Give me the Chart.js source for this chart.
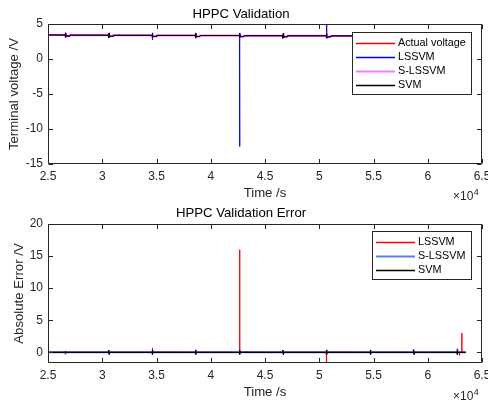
<!DOCTYPE html>
<html lang="en">
<head>
  <meta charset="UTF-8">
  <title>HPPC Validation</title>
  <style>
    body { margin: 0; background: #fff; }
    #wrap { position: relative; width: 488px; height: 403px; }
    canvas { position: absolute; left: 0; }
    #c1 { top: 0; }
    #c2 { top: 199px; }
  </style>
</head>
<body>
  <div id="wrap">
    <canvas id="c1" width="488" height="200"></canvas>
    <canvas id="c2" width="488" height="204"></canvas>
  </div>

  <script src="https://cdn.jsdelivr.net/npm/chart.js"></script>
  <script>
    // tick labels (time axis is shown in units of 1e4 s)
    const timeTicks = [2.5, 3, 3.5, 4, 4.5, 5, 5.5, 6, 6.5];
    const voltTicks = [-15, -10, -5, 0, 5];
    const errTicks = [0, 5, 10, 15, 20];

    // --- HPPC Validation: time (s) and terminal voltage (V)
    const timeV = [25000,
      26599, 26600, 26640, 26660, 27000, 27020,
      30599, 30600, 30640, 30660, 31000, 31020,
      34599, 34600, 34640, 34660, 35000, 35020,
      38599, 38600, 38640, 38660, 39000, 39020,
      42649, 42650, 42690, 42710, 43050, 43070,
      46649, 46650, 46690, 46710, 47050, 47070,
      50649, 50650, 50690, 50710, 51050, 51070,
      54699, 54700, 54740, 54760, 55100, 55120,
      58699, 58700, 58740, 58760, 59100, 59120,
      62699, 62700, 62740, 62760, 63100, 63120,
      63500];
    const actualV = [3.43,
      3.43, 3.08, 3.73, 3.28, 3.28, 3.40,
      3.40, 3.05, 3.70, 3.25, 3.25, 3.38,
      3.38, 3.03, 3.68, 3.23, 3.23, 3.37,
      3.37, 3.02, 3.67, 3.22, 3.22, 3.35,
      3.35, 3.00, 3.65, 3.20, 3.20, 3.33,
      3.33, 2.98, 3.63, 3.18, 3.18, 3.32,
      3.32, 2.97, 3.62, 3.17, 3.17, 3.30,
      3.30, 2.95, 3.60, 3.15, 3.15, 3.28,
      3.28, 2.93, 3.58, 3.13, 3.13, 3.25,
      3.25, 2.90, 3.55, 3.10, 3.10, 3.20,
      3.20];
    const lssvmV = [3.43,
      3.43, 3.06, 3.72, 3.27, 3.28, 3.40,
      3.40, 3.00, 3.70, 3.24, 3.25, 3.38,
      3.38, 2.72, 3.69, 3.22, 3.23, 3.37,
      3.37, 3.00, 3.66, 3.21, 3.22, 3.35,
      3.35, -12.50, 3.64, 3.19, 3.20, 3.33,
      3.33, 2.97, 3.62, 3.17, 3.18, 3.32,
      3.32, 2.95, 8.00, 3.16, 3.17, 3.30,
      3.30, 2.94, 3.60, 3.14, 3.15, 3.28,
      3.28, 2.92, 3.57, 3.12, 3.13, 3.25,
      3.25, 2.90, 3.55, 3.09, 3.10, 0.25,
      3.20];
    const sLssvmV = [3.43,
      3.43, 3.10, 3.71, 3.29, 3.28, 3.40,
      3.40, 3.07, 3.68, 3.26, 3.25, 3.38,
      3.38, 3.05, 3.66, 3.24, 3.23, 3.37,
      3.37, 3.04, 3.65, 3.23, 3.22, 3.35,
      3.35, 3.02, 3.63, 3.21, 3.20, 3.33,
      3.33, 3.00, 3.61, 3.19, 3.18, 3.32,
      3.32, 2.99, 3.60, 3.18, 3.17, 3.30,
      3.30, 2.97, 3.58, 3.16, 3.15, 3.28,
      3.28, 2.95, 3.56, 3.14, 3.13, 3.25,
      3.25, 2.92, 3.53, 3.11, 3.10, 3.20,
      3.20];
    const svmV = [3.43,
      3.43, 3.12, 3.70, 3.29, 3.28, 3.40,
      3.40, 3.10, 3.68, 3.26, 3.25, 3.38,
      3.38, 3.08, 3.66, 3.24, 3.23, 3.37,
      3.37, 3.06, 3.65, 3.23, 3.22, 3.35,
      3.35, 3.05, 3.63, 3.21, 3.20, 3.33,
      3.33, 3.03, 3.61, 3.19, 3.18, 3.32,
      3.32, 3.02, 3.60, 3.18, 3.17, 3.30,
      3.30, 3.00, 3.58, 3.16, 3.15, 3.28,
      3.28, 2.98, 3.56, 3.14, 3.13, 3.25,
      3.25, 2.95, 3.53, 3.11, 3.10, 3.20,
      3.20];

    // --- HPPC Validation Error: time (s) and absolute error (V)
    const timeE = [25000,
      26599, 26600, 26640, 26660,
      30599, 30600, 30640, 30660,
      34599, 34600, 34640, 34660,
      38599, 38600, 38640, 38660,
      42649, 42650, 42690, 42710,
      46649, 46650, 46690, 46710,
      50649, 50650, 50690, 50710,
      54699, 54700, 54740, 54760,
      58699, 58700, 58740, 58760,
      62699, 62700, 62740, 62760,
      62929, 62930, 62940,
      63139, 63140, 63150,
      63500];
    const lssvmErr = [0.02,
      0.02, 0.05, -0.05, 0.03,
      0.02, 0.08, -0.06, 0.03,
      0.02, 0.70, -0.10, 0.05,
      0.02, 0.10, -0.08, 0.03,
      0.02, 16.00, -0.10, 0.05,
      0.02, 0.10, -0.08, 0.03,
      0.02, 0.10, -3.50, 0.05,
      0.02, 0.08, -0.08, 0.03,
      0.02, 0.10, -0.08, 0.03,
      0.02, 0.10, -0.10, 0.03,
      0.02, -0.50, 0.02,
      0.02, 3.00, 0.02,
      0.02];
    const sLssvmErr = [0.00,
      0.00, -0.20, 0.10, 0.02,
      0.00, 0.25, -0.15, 0.02,
      0.00, 0.20, -0.15, 0.02,
      0.00, 0.30, -0.20, 0.02,
      0.00, 0.20, -0.15, 0.02,
      0.00, 0.25, -0.15, 0.02,
      0.00, 0.30, -0.20, 0.02,
      0.00, 0.20, -0.15, 0.02,
      0.00, 0.35, -0.20, 0.02,
      0.00, 0.50, -0.20, 0.02,
      0.00, 0.00, 0.00,
      0.00, 0.00, 0.00,
      0.00];
    const svmErr = [0.00,
      0.00, 0.10, -0.10, 0.01,
      0.00, 0.30, -0.30, 0.01,
      0.00, 0.30, -0.30, 0.01,
      0.00, 0.30, -0.30, 0.01,
      0.00, 0.30, -0.30, 0.01,
      0.00, 0.30, -0.30, 0.01,
      0.00, 0.30, -0.30, 0.01,
      0.00, 0.30, -0.30, 0.01,
      0.00, 0.30, -0.30, 0.01,
      0.00, 0.30, -0.30, 0.01,
      0.00, 0.00, 0.00,
      0.00, 0.00, 0.00,
      0.00];

    const FONT = "'Liberation Sans', Arial, Helvetica, sans-serif";
    const AXIS = '#262626';
    const RED = 'rgb(255,0,0)', BLUE = 'rgb(0,0,255)', BLACK = 'rgb(0,0,0)';
    const PINK = 'rgba(255,0,255,0.55)', LIGHTBLUE = 'rgba(0,50,255,0.65)';
    Chart.defaults.font.family = FONT;
    Chart.defaults.color = AXIS;

    const pts = (t, v) => t.map((x, i) => ({ x: x, y: v[i] }));

    // matlab-like box, inward ticks, x10^4 note and legend inside the axes
    const matlabAxes = {
      id: 'matlabAxes',
      afterDraw(chart, args, opts) {
        const { ctx, chartArea: a, scales } = chart;
        const L = Math.round(a.left) + 0.5, R = Math.round(a.right) - 0.5;
        const T = Math.round(a.top) + 0.5, B = Math.round(a.bottom) - 0.5;
        ctx.save();
        ctx.strokeStyle = AXIS;
        ctx.lineWidth = 1;
        ctx.beginPath();
        ctx.rect(L, T, R - L, B - T);
        scales.x.ticks.forEach(t => {
          const px = Math.round(scales.x.getPixelForValue(t.value)) + 0.5;
          ctx.moveTo(px, B); ctx.lineTo(px, B - 4.5);
          ctx.moveTo(px, T); ctx.lineTo(px, T + 4.5);
        });
        scales.y.ticks.forEach(t => {
          const py = Math.round(scales.y.getPixelForValue(t.value)) + 0.5;
          ctx.moveTo(L, py); ctx.lineTo(L + 4.5, py);
          ctx.moveTo(R, py); ctx.lineTo(R - 4.5, py);
        });
        ctx.stroke();

        // exponent of the time axis
        ctx.fillStyle = AXIS;
        ctx.textAlign = 'left';
        ctx.textBaseline = 'alphabetic';
        ctx.font = '12px ' + FONT;
        const ex = a.right - 29;
        ctx.fillText('\u00d710', ex, opts.expBase);
        const w10 = ctx.measureText('\u00d710').width;
        ctx.font = '9px ' + FONT;
        ctx.fillText('4', ex + w10 + 0.5, opts.expBase - 5);

        // legend
        const items = opts.items;
        ctx.font = '10.8px ' + FONT;
        const maxW = Math.max(...items.map(d => ctx.measureText(d.label).width));
        const rowH = 14.3;
        const w = Math.round(4.5 + 39 + 3 + maxW + 5);
        const h = Math.round(10.5 + (items.length - 1) * rowH + 8.5);
        const x0 = Math.round(a.right - 11 - w);
        const y0 = Math.round(a.top + opts.legendTop);
        ctx.fillStyle = '#ffffff';
        ctx.fillRect(x0, y0, w, h);
        ctx.strokeStyle = AXIS;
        ctx.lineWidth = 1;
        ctx.strokeRect(x0 + 0.5, y0 + 0.5, w, h);
        items.forEach((d, i) => {
          const yy = Math.round(y0 + 10.5 + i * rowH);
          const lw = d.width < 2 ? 1.5 : 2;
          ctx.fillStyle = d.color;
          ctx.fillRect(x0 + 4, yy - lw / 2 + 0.5, 39, lw);
          ctx.fillStyle = '#000000';
          ctx.textBaseline = 'middle';
          ctx.fillText(d.label, x0 + 46, yy + 0.5);
        });
        ctx.restore();
      }
    };

    function axesOptions(o) {
      return {
        responsive: false,
        animation: false,
        events: [],
        layout: { padding: { top: 0, left: 0, right: 6, bottom: 0 }, autoPadding: false },
        elements: {
          point: { radius: 0 },
          line: { tension: 0, borderJoinStyle: 'round', borderCapStyle: 'butt' }
        },
        plugins: {
          legend: { display: false },
          tooltip: { enabled: false },
          title: {
            display: true, text: o.title, color: '#000',
            font: { size: 13.2, weight: 'normal', lineHeight: 1 },
            padding: { top: 8, bottom: o.titleGap }
          },
          matlabAxes: { legendTop: o.legendTop, expBase: o.expBase, items: o.legend }
        },
        scales: {
          x: {
            type: 'linear', min: 25000, max: 65000,
            grid: { display: false, drawTicks: false }, border: { display: false },
            afterBuildTicks: s => { s.ticks = timeTicks.map(v => ({ value: v * 1e4 })); },
            afterFit: s => { s.height = o.xHeight; s.paddingLeft = 0; s.paddingRight = 0; },
            ticks: { autoSkip: false, maxRotation: 0, padding: 5, font: { size: 12 },
                     callback: v => String(v / 1e4) },
            title: { display: true, text: 'Time /s', font: { size: 13.2, lineHeight: 1 },
                     padding: { top: 0, bottom: o.xTitlePad } }
          },
          y: {
            min: o.yMin, max: o.yMax,
            grid: { display: false, drawTicks: false }, border: { display: false },
            afterBuildTicks: s => { s.ticks = o.yTicks.map(v => ({ value: v })); },
            afterFit: s => { s.width = 48; s.paddingTop = 0; s.paddingBottom = 0; },
            ticks: { padding: 5, font: { size: 12 } },
            title: { display: true, text: o.yTitle, font: { size: 13.2, lineHeight: 1 },
                     padding: { top: o.yTitlePad, bottom: 0 } }
          }
        }
      };
    }

    const topSeries = [
      { label: 'Actual voltage', values: actualV, color: RED, width: 1, order: 3 },
      { label: 'LSSVM', values: lssvmV, color: BLUE, width: 1, order: 2 },
      { label: 'S-LSSVM', values: sLssvmV, color: PINK, width: 2, order: 1 },
      { label: 'SVM', values: svmV, color: BLACK, width: 1, order: 0 }
    ];
    const errSeries = [
      { label: 'LSSVM', values: lssvmErr, color: RED, width: 1, order: 2 },
      { label: 'S-LSSVM', values: sLssvmErr, color: LIGHTBLUE, width: 2, order: 1 },
      { label: 'SVM', values: svmErr, color: BLACK, width: 1.2, order: 0 }
    ];
    const toDatasets = (t, list) => list.map(s => ({
      label: s.label, data: pts(t, s.values), borderColor: s.color, borderWidth: s.width, order: s.order
    }));

    new Chart(document.getElementById('c1'), {
      type: 'line',
      data: { datasets: toDatasets(timeV, topSeries) },
      options: axesOptions({
        title: 'HPPC Validation', titleGap: 2.8, legendTop: 8, expBase: 199.5, legend: topSeries,
        xHeight: 36, xTitlePad: 0,
        yMin: -15, yMax: 5, yTicks: voltTicks,
        yTitle: 'Terminal voltage /V', yTitlePad: 8
      }),
      plugins: [matlabAxes]
    });

    new Chart(document.getElementById('c2'), {
      type: 'line',
      data: { datasets: toDatasets(timeE, errSeries) },
      options: axesOptions({
        title: 'HPPC Validation Error', titleGap: 3.8, legendTop: 6.5, expBase: 200.5, legend: errSeries,
        xHeight: 40, xTitlePad: 4.5,
        yMin: -1.66, yMax: 20, yTicks: errTicks,
        yTitle: 'Absolute Error /V', yTitlePad: 13
      }),
      plugins: [matlabAxes]
    });
  </script>
</body>
</html>
